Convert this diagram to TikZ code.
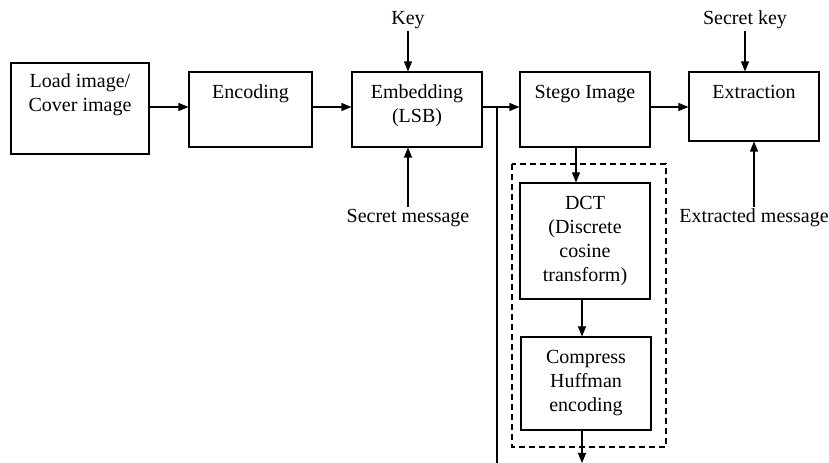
\documentclass[tikz,border=0pt]{standalone}
\usepackage{fontspec}
\setmainfont{Liberation Serif}
\usetikzlibrary{arrows.meta}

\begin{document}
\begin{tikzpicture}[x=0.6pt,y=-0.6pt,>={Triangle[length=6pt,width=4.8pt]},
    line width=0.65pt,
    every node/.style={font=\fontsize{12pt}{14.4pt}\selectfont},
    block/.style={draw,rectangle,minimum width=78pt,minimum height=45pt,align=center,inner sep=1pt},
    top text/.style={anchor=north,yshift=-7.8pt,inner sep=0pt,align=center},
    side text/.style={inner sep=1pt}]
    \useasboundingbox (0,0) rectangle (829,463);
    \node[block,minimum width=82.8pt,minimum height=54.6pt,
      label={[top text,yshift=1.2pt]north:Load image/\\Cover image}] (load) at (80,108.5) {};
    \node[block,minimum width=73.8pt,label={[top text]north:Encoding}] (enc) at (250.5,109.5) {};
    \node[block,label={[top text]north:Embedding\\(LSB)}] (emb) at (417,109.5) {};
    \node[block,label={[top text]north:Stego Image}] (stego) at (585,109.5) {};
    \node[block,minimum height=41.4pt,label={[top text]north:Extraction}] (extr) at (754,106.5) {};
    \node[block,minimum height=69.6pt] (dct) at (585,241) {DCT\\(Discrete\\cosine\\transform)};
    \node[block,minimum height=55.8pt] (comp) at (586,383.5) {Compress\\Huffman\\encoding};
    \node[side text] (key) at (408,20) {Key};
    \node[side text] (secmsg) at (408,218) {Secret message};
    \node[side text] (seckey) at (745,20) {Secret key};
    \node[side text] (extmsg) at (754,218) {Extracted message};
    \coordinate (split) at (497,107);
    \coordinate (bottom) at (497,463);
    \draw[dash pattern=on 3.6pt off 2.4pt] (512,164) rectangle (666,447);
    \path[->]
    (load.east |- split) edge (split -| enc.west)
    (enc.east |- split) edge (split -| emb.west)
    (emb.east |- split) edge (split -| stego.west)
    (stego.east |- split) edge (split -| extr.west)
    (key.south) edge (key.south |- emb.north)
    (secmsg.north) edge (secmsg.north |- emb.south)
    (seckey.south) edge (seckey.south |- extr.north)
    (extmsg.north) edge (extmsg.north |- extr.south)
    ([xshift=-5.4pt]stego.south) edge ([xshift=-5.4pt]stego.south |- dct.north)
    ([xshift=-1.8pt]dct.south) edge ([xshift=-1.8pt]dct.south |- comp.north)
    ([xshift=-2.4pt]comp.south) edge ([xshift=-2.4pt]comp.south |- bottom);
    \draw (split) -- (bottom);
\end{tikzpicture}
\end{document}
